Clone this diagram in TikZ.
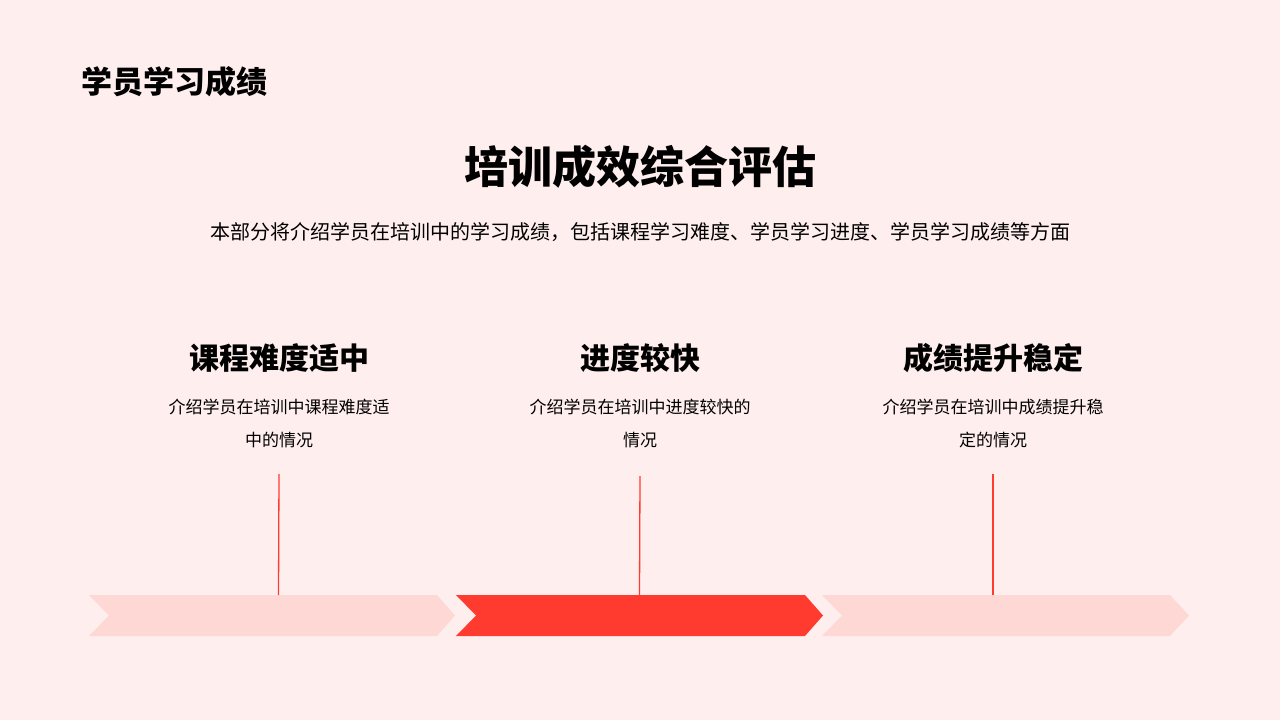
\documentclass[tikz,border=0pt]{standalone}
\usepackage{fontspec}
\setmainfont{Noto Sans CJK SC}
\definecolor{bg}{HTML}{FFEEEE}
\definecolor{lite}{HTML}{FDD8D5}
\definecolor{hot}{HTML}{FF3B30}
\begin{document}
\begin{tikzpicture}[x=1pt,y=-1pt,
  chev/.style={draw=none},
  stem/.style={draw=hot,line width=1.3pt},
  head/.style={font=\fontsize{30}{36}\selectfont\bfseries,anchor=center},
  desc/.style={font=\fontsize{17}{33}\selectfont,align=center,anchor=north}]
\fill[bg] (0,0) rectangle (1280,720);
\useasboundingbox (0,0) rectangle (1280,720);
\node[anchor=west,font=\fontsize{31}{36}\selectfont\bfseries] (t0) at (78,82) {学员学习成绩};
\node[font=\fontsize{44}{50}\selectfont\bfseries] (t1) at (640,167) {培训成效综合评估};
\node[font=\fontsize{20}{24}\selectfont] (t2) at (640,232) {本部分将介绍学员在培训中的学习成绩，包括课程学习难度、学员学习进度、学员学习成绩等方面};
\fill[lite] (89,595)--(437,595)--(455,615.5)--(437,636)--(89,636)--(109,615.5)--cycle;
\fill[hot] (456,595)--(805,595)--(823,615.5)--(805,636)--(456,636)--(476,615.5)--cycle;
\fill[lite] (822,595)--(1170,595)--(1189,615.5)--(1170,636)--(822,636)--(842,615.5)--cycle;
\node[head] (h1) at (279,358) {课程难度适中};
\node[head] (h2) at (640,358) {进度较快};
\node[head] (h3) at (993,358) {成绩提升稳定};
\node[desc] (d1) at (279,396) {介绍学员在培训中课程难度适\\中的情况};
\node[desc] (d2) at (640,396) {介绍学员在培训中进度较快的\\情况};
\node[desc] (d3) at (993,396) {介绍学员在培训中成绩提升稳\\定的情况};
\coordinate (a1) at (279,474); \coordinate (b1) at (278.5,595);
\coordinate (a2) at (640,476); \coordinate (b2) at (639.5,595);
\coordinate (a3) at (993,474); \coordinate (b3) at (993,595);
\draw[stem] (a1)--(b1); \draw[stem] (a2)--(b2); \draw[stem] (a3)--(b3);
\end{tikzpicture}
\end{document}
